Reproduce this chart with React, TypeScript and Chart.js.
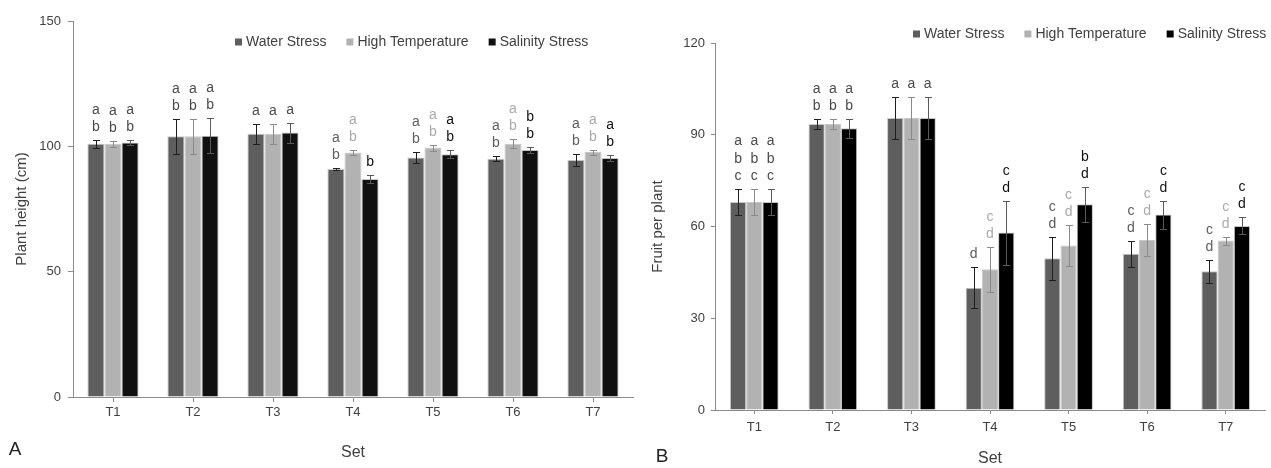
import React, { useEffect, useRef } from 'react';
import { Chart, registerables } from 'chart.js';

Chart.register(...registerables);

// ---------- data ----------
const categories = ['T1', 'T2', 'T3', 'T4', 'T5', 'T6', 'T7'];
const seriesNames = ['Water Stress', 'High Temperature', 'Salinity Stress'];

// Panel A: plant height (cm)
const heightWater = [101, 104, 105, 91, 95.5, 95, 94.5];
const heightHigh = [101, 104, 105, 97.5, 99.5, 101, 97.7];
const heightSalinity = [101.5, 104.2, 105.5, 87, 96.8, 98.5, 95.3];
const heightWaterErr = [1.5, 7, 4, 0.5, 2.2, 1, 2.3];
const heightHighErr = [1.3, 7, 4, 1, 1.2, 1.8, 1];
const heightSalinityErr = [1, 7, 4, 1.7, 1.6, 1.2, 1.2];
const heightWaterLetters = ['ab', 'ab', 'a', 'ab', 'ab', 'ab', 'ab'];
const heightHighLetters = ['ab', 'ab', 'a', 'ab', 'ab', 'ab', 'ab'];
const heightSalinityLetters = ['ab', 'ab', 'a', 'b', 'ab', 'bb', 'ab'];
const heightTicks = [0, 50, 100, 150];

// Panel B: fruit per plant
const fruitWater = [68, 93.5, 95.5, 40, 49.6, 51.1, 45.4];
const fruitHigh = [68, 93.5, 95.5, 46, 53.8, 55.6, 55.4];
const fruitSalinity = [68, 92.1, 95.5, 58, 67.3, 63.9, 60.2];
const fruitWaterErr = [4.4, 1.6, 6.9, 6.7, 7, 4.3, 3.8];
const fruitHighErr = [4.4, 1.6, 6.9, 7.3, 6.8, 5.3, 1.3];
const fruitSalinityErr = [4.4, 3, 6.9, 10.5, 5.7, 4.6, 2.8];
const fruitWaterLetters = ['abc', 'ab', 'a', 'd', 'cd', 'cd', 'cd'];
const fruitHighLetters = ['abc', 'ab', 'a', 'cd', 'cd', 'cd', 'cd'];
const fruitSalinityLetters = ['abc', 'ab', 'a', 'cd', 'bd', 'cd', 'cd'];
const fruitTicks = [0, 30, 60, 90, 120];

// ---------- styles ----------
const FONT = "'Liberation Sans', Arial, Helvetica, sans-serif";
const TEXT = '#404040';
const AXIS = '#8a8a8a';
const ERR_COLORS = ['#1e1e1e', '#8a8a8a', '#5a5a5a'];
const LETTER_PLAIN = '#4a4a4a';
const LETTER_TONES = ['#5c5c5c', '#a9a9a9', '#111111'];
const TONED_FROM = 3;

const overlayPlugin = {
  id: 'overlay',
  afterDatasetsDraw(chart: any, _args: any, opts: any) {
    const ctx = chart.ctx;
    const ys = chart.scales.y;
    ctx.save();
    chart.data.datasets.forEach((ds: any, i: number) => {
      const meta = chart.getDatasetMeta(i);
      meta.data.forEach((bar: any, j: number) => {
        const v = ds.data[j];
        const e = opts.errors[i][j];
        const x = bar.x;
        const yt = Math.round(ys.getPixelForValue(v + e)) + 0.5;
        const yb = Math.round(ys.getPixelForValue(v - e)) + 0.5;
        const xr = Math.round(x) + 0.5;
        ctx.strokeStyle = ERR_COLORS[i];
        ctx.lineWidth = 1;
        ctx.beginPath();
        ctx.moveTo(xr, yt);
        ctx.lineTo(xr, yb);
        ctx.moveTo(xr - 3.5, yt);
        ctx.lineTo(xr + 3.5, yt);
        ctx.moveTo(xr - 3.5, yb);
        ctx.lineTo(xr + 3.5, yb);
        ctx.stroke();
        // letters
        const s: string = opts.letters[i][j];
        ctx.font = `14px ${FONT}`;
        ctx.textAlign = 'center';
        ctx.textBaseline = 'middle';
        ctx.fillStyle = j < TONED_FROM ? LETTER_PLAIN : LETTER_TONES[i];
        const n = s.length;
        for (let k = 0; k < n; k++) {
          const cy = yt - 13 - (n - 1 - k) * 17.5;
          ctx.fillText(s[k], x, cy);
        }
      });
    });
    ctx.restore();
  },
  afterDraw(chart: any, _args: any, opts: any) {
    const ctx = chart.ctx;
    ctx.save();
    // legend
    ctx.font = `14px ${FONT}`;
    ctx.textBaseline = 'middle';
    ctx.textAlign = 'left';
    let x = opts.legendX;
    const y = opts.legendY;
    chart.data.datasets.forEach((ds: any) => {
      ctx.fillStyle = ds.backgroundColor;
      ctx.fillRect(x, y - 3.5, 7, 7);
      ctx.fillStyle = TEXT;
      ctx.fillText(ds.label, x + 11, y);
      x += 11 + ctx.measureText(ds.label).width + 20;
    });
    // panel letter
    ctx.font = `19px ${FONT}`;
    ctx.textAlign = 'center';
    ctx.fillStyle = '#222';
    ctx.fillText(opts.panel, opts.panelX, opts.panelY);
    ctx.restore();
  },
};

function buildConfig(spec: any) {
  const ticks = spec.ticks;
  return {
    type: 'bar',
    data: {
      labels: categories,
      datasets: spec.values.map((vals: number[], i: number) => ({
        label: seriesNames[i],
        data: vals,
        backgroundColor: spec.colors[i],
        borderColor: '#c6c6c6',
        borderWidth: 1,
        categoryPercentage: spec.catPct,
        barPercentage: 1,
      })),
    },
    options: {
      responsive: false,
      animation: false,
      devicePixelRatio: 1,
      layout: { padding: { left: 0, top: spec.top, right: spec.right, bottom: 0 } },
      plugins: {
        legend: { display: false },
        tooltip: { enabled: false },
        overlay: {
          errors: spec.errors,
          letters: spec.letters,
          legendX: spec.legendX,
          legendY: spec.legendY,
          panel: spec.panel,
          panelX: spec.panelX,
          panelY: spec.panelY,
        },
      },
      scales: {
        x: {
          grid: {
            display: true,
            drawOnChartArea: false,
            drawTicks: true,
            tickLength: spec.xTickLen,
            color: AXIS,
            offset: false,
          },
          border: { display: true, color: AXIS, width: 1 },
          ticks: {
            color: TEXT,
            font: { family: FONT, size: 13 },
            padding: spec.xTickPad,
            maxRotation: 0,
            autoSkip: false,
          },
          title: {
            display: true,
            text: 'Set',
            color: TEXT,
            font: { family: FONT, size: 16 },
            padding: { top: 0, bottom: spec.xTitlePad },
          },
          afterFit: (s: any) => {
            s.height = spec.xHeight;
          },
        },
        y: {
          min: ticks[0],
          max: ticks[ticks.length - 1],
          grid: {
            display: true,
            drawOnChartArea: false,
            drawTicks: true,
            tickLength: spec.yTickLen,
            color: AXIS,
          },
          border: { display: true, color: AXIS, width: 1 },
          ticks: {
            stepSize: ticks[1] - ticks[0],
            color: TEXT,
            font: { family: FONT, size: 13 },
            padding: spec.yTickPad,
          },
          title: {
            display: true,
            text: spec.yTitle,
            color: TEXT,
            font: { family: FONT, size: 15 },
            padding: { top: spec.yTitlePad, bottom: 0 },
          },
          afterFit: (s: any) => {
            s.width = spec.yWidth;
          },
        },
      },
    },
    plugins: [overlayPlugin],
  };
}

const specA = {
  values: [heightWater, heightHigh, heightSalinity],
  errors: [heightWaterErr, heightHighErr, heightSalinityErr],
  letters: [heightWaterLetters, heightHighLetters, heightSalinityLetters],
  ticks: heightTicks,
  yTitle: 'Plant height (cm)',
  colors: ['#5e5e5e', '#b2b2b2', '#111111'],
  catPct: 0.64,
  top: 21,
  right: 7,
  yWidth: 73,
  xHeight: 71,
  xTickLen: 5,
  xTickPad: 3,
  yTickLen: 5,
  yTickPad: 7,
  xTitlePad: 6,
  yTitlePad: 13,
  legendX: 235,
  legendY: 42,
  panel: 'A',
  panelX: 15,
  panelY: 450,
};

const specB = {
  values: [fruitWater, fruitHigh, fruitSalinity],
  errors: [fruitWaterErr, fruitHighErr, fruitSalinityErr],
  letters: [fruitWaterLetters, fruitHighLetters, fruitSalinityLetters],
  ticks: fruitTicks,
  yTitle: 'Fruit per plant',
  colors: ['#5e5e5e', '#b2b2b2', '#000000'],
  catPct: 0.62,
  top: 43,
  right: 6,
  yWidth: 75,
  xHeight: 58,
  xTickLen: 4,
  xTickPad: 6,
  yTickLen: 4,
  yTickPad: 6,
  xTitlePad: 0,
  yTitlePad: 9,
  legendX: 273,
  legendY: 34,
  panel: 'B',
  panelX: 22,
  panelY: 457,
};

export default function App() {
  const leftRef = useRef<HTMLCanvasElement | null>(null);
  const rightRef = useRef<HTMLCanvasElement | null>(null);

  useEffect(() => {
    document.body.style.margin = '0';
    document.body.style.background = '#ffffff';
    const a = new Chart(leftRef.current as any, buildConfig(specA) as any);
    const b = new Chart(rightRef.current as any, buildConfig(specB) as any);
    return () => {
      a.destroy();
      b.destroy();
    };
  }, []);

  return (
    <div style={{ position: 'relative', width: 1271, height: 468, background: '#fff' }}>
      <canvas
        ref={leftRef}
        width={640}
        height={468}
        style={{ position: 'absolute', left: 0, top: 0, width: 640, height: 468 }}
      />
      <canvas
        ref={rightRef}
        width={631}
        height={468}
        style={{ position: 'absolute', left: 640, top: 0, width: 631, height: 468 }}
      />
    </div>
  );
}
